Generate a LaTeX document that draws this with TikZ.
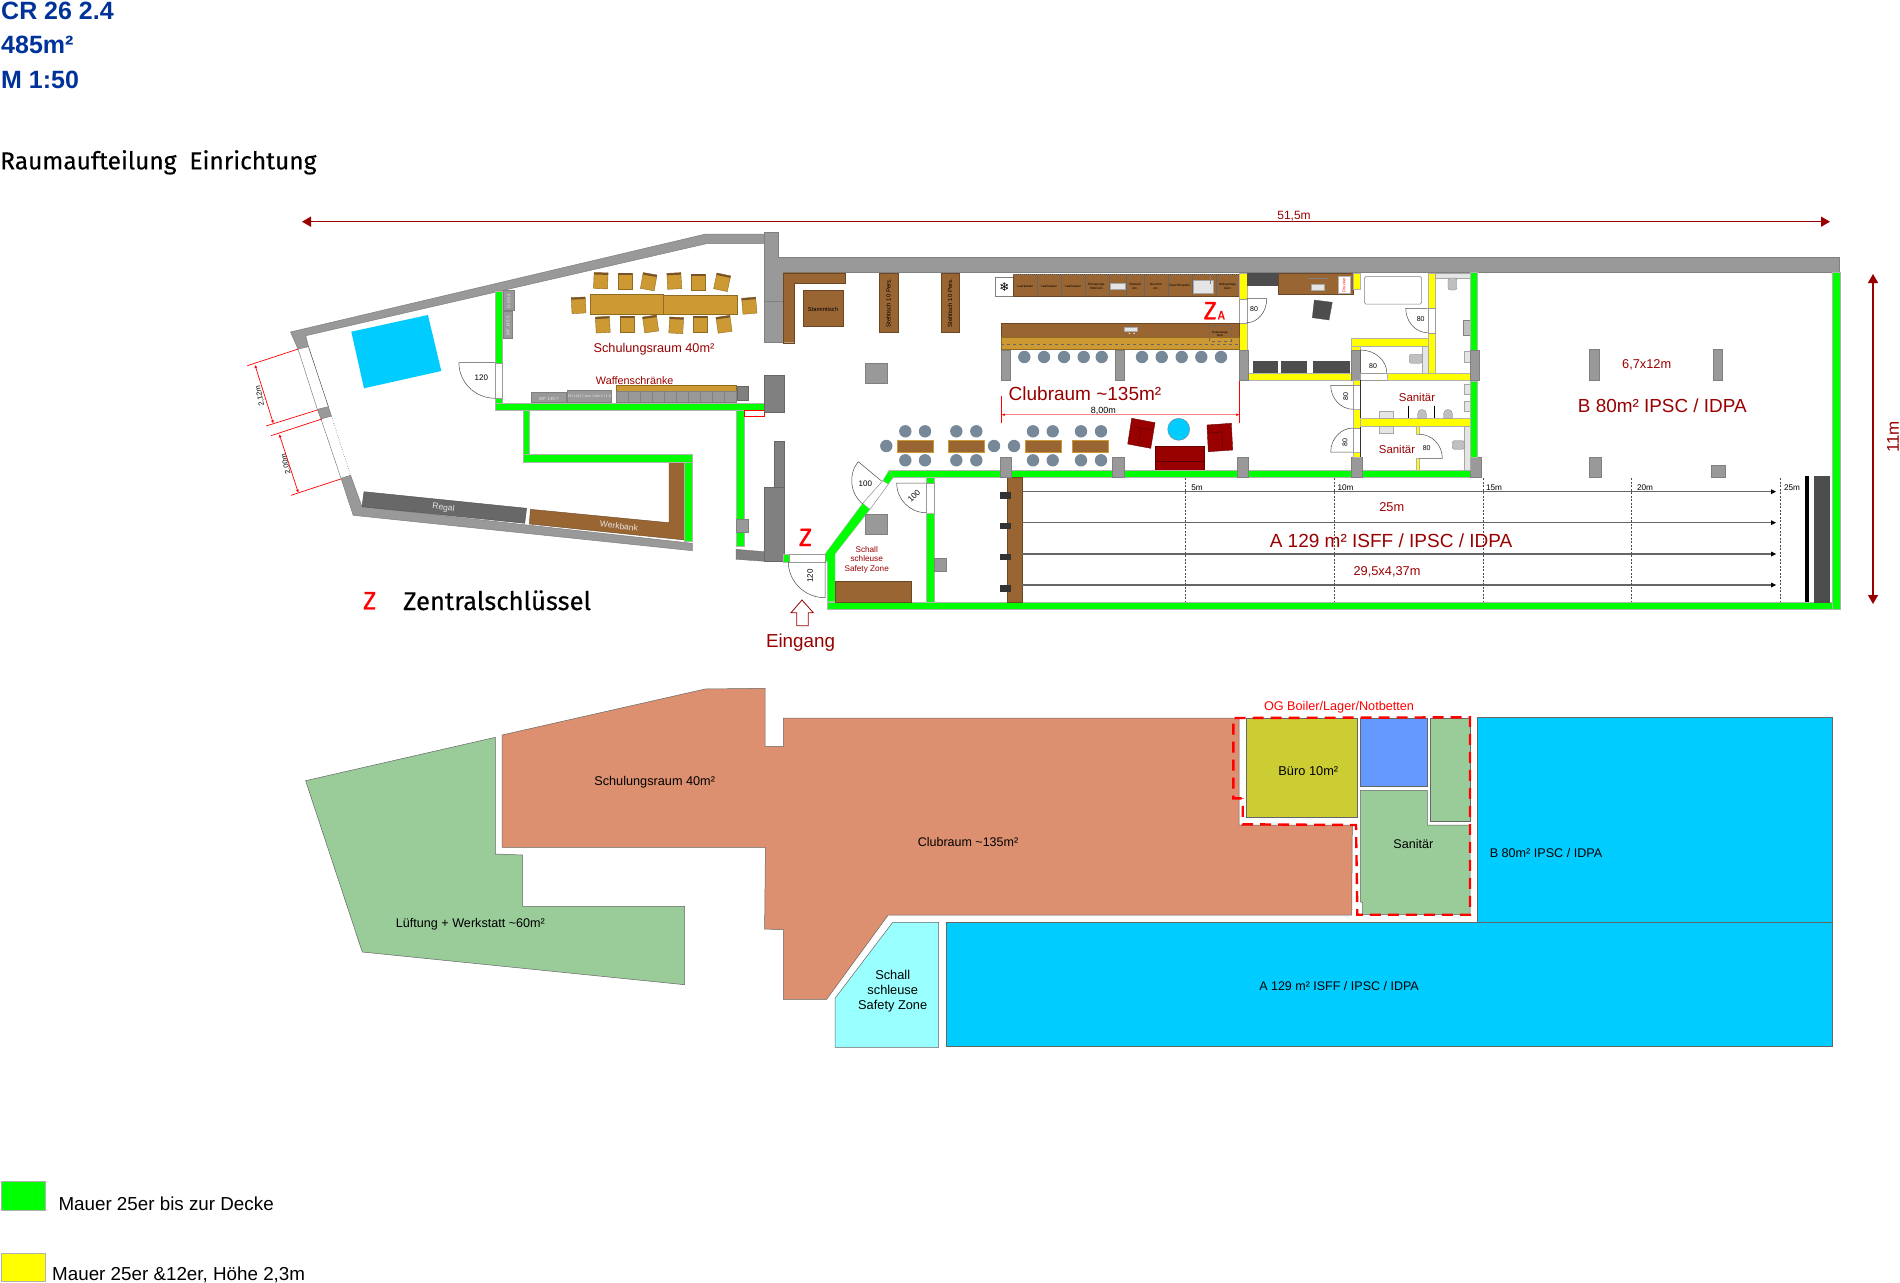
\documentclass[tikz,border=0pt]{standalone}
\usepackage{fontspec}
\setmainfont{Liberation Sans}
\newfontfamily\dinf{Fira Sans}[FakeBold=0.4]
\newfontfamily\dinz{Fira Sans}[FakeBold=1]
\newfontfamily\djvf{DejaVu Sans}
\usetikzlibrary{arrows.meta,calc}
\definecolor{dred}{HTML}{990000}
\definecolor{wgray}{HTML}{999999}
\definecolor{dgray}{HTML}{808080}
\definecolor{brwn}{HTML}{996633}
\definecolor{tann}{HTML}{CC9933}
\definecolor{sky}{HTML}{00CCFF}
\definecolor{tblue}{HTML}{003399}
\definecolor{lgreen}{HTML}{99CC99}
\definecolor{salm}{HTML}{DD9070}
\definecolor{stool}{HTML}{778899}
\definecolor{blk}{HTML}{4D4D4D}
\definecolor{wgreen}{HTML}{00FF00}
\definecolor{wyel}{HTML}{FFFF00}
\definecolor{pcyan}{HTML}{99FFFF}
\definecolor{pred}{HTML}{FF0000}
\tikzset{
 wg/.style={fill=wgray,draw=dgray,line width=.5pt},
 wd/.style={fill=dgray,draw=dgray!80!black,line width=.3pt},
 wgr/.style={fill=wgreen,draw=gray!60,line width=.4pt},
 wy/.style={fill=wyel,draw=gray!60,line width=.4pt},
 br/.style={fill=brwn,draw=brwn!70!black,line width=.4pt},
 tn/.style={fill=tann,draw=tann!70!black,line width=.4pt},
 bk/.style={fill=blk,draw=black!70,line width=.4pt},
 lg/.style={fill=black!10,draw=gray!70,line width=.3pt},
 doorl/.style={draw=black!70,line width=.5pt},
 gapl/.style={fill=white,draw=gray!80,line width=.4pt},
 dimr/.style={draw=pred,line width=.7pt},
 roomp/.style={draw=gray!80!black,line width=.5pt},
 bigarrow/.style={draw=dred,line width=1.5pt,-{Triangle[length=9pt,width=10pt]}},
 rangeln/.style={draw=black!60,line width=1.2pt,dash pattern=on .6pt off .4pt},
 gridln/.style={draw=black!70,line width=.5pt,dash pattern=on 2pt off 1.5pt},
}
\newcommand\lb[5][0]{\node[yshift=-1pt,rotate=#1,inner sep=0pt,align=center,text=#4,font={\fontsize{#3pt}{#3pt}\selectfont\baselineskip=1.15\baselineskip}] at (#2) {#5};}
\newcommand\rc[5]{\draw[#5] (#1,#2) rectangle (#3,#4);}
\newcommand\dr[3]{\draw[doorl] (#1) -- (#2) .. controls ($(#2)+0.5523*(#3)-0.5523*(#1)$) and ($(#3)+0.5523*(#2)-0.5523*(#1)$) .. (#3);}
\newcommand\chairb[3]{\begin{scope}[shift={(#1,#2)},rotate=#3]
 \draw[tn] (-7,-8) rectangle (7,8);\fill[brwn!80!black] (-7,-8) rectangle (7,-6);\end{scope}}
\begin{document}
\begin{tikzpicture}[x=1pt,y=-1pt]
\fill[white] (0,0) rectangle (1900,1282);
\useasboundingbox (0,0) rectangle (1900,1282);
% titles
\node[anchor=base west,inner sep=0pt,text=tblue,font=\fontsize{25pt}{25pt}\selectfont\bfseries] at (1,19) {CR 26 2.4};
\node[anchor=base west,inner sep=0pt,text=tblue,font=\fontsize{25pt}{25pt}\selectfont\bfseries] at (1,53.7) {485m²};
\node[anchor=base west,inner sep=0pt,text=tblue,font=\fontsize{25pt}{25pt}\selectfont\bfseries] at (1,88.7) {M 1:50};
\node[anchor=base west,inner sep=0pt,font=\fontsize{24.5pt}{24.5pt}\selectfont\dinf] at (0,169.3) {Raumaufteilung\ \ Einrichtung};
% dimension arrows
\draw[bigarrow,{Triangle[length=9pt,width=10pt]}-{Triangle[length=9pt,width=10pt]}] (302,221.7) -- (1830,221.7);
\lb{1294,215}{12}{dred}{51,5m}
\draw[bigarrow,{Triangle[length=9pt,width=10pt]}-{Triangle[length=9pt,width=10pt]}] (1873,274) -- (1873,604);
\lb[90]{1893,436}{17}{dred}{11m}
% outer gray walls
\draw[wg] (290.5,332)--(705.7,234)--(764.6,234)--(764.6,243.7)--(706.4,243.7)--(305.8,335.7)--(308.5,346.7)--(298,349)--cycle;
\draw[wg] (317.3,409.3)--(328.4,406.7)--(331.4,416)--(321,419)--cycle;
\draw[wg] (341,478.3)--(353.2,515.3)--(692.3,550.7)--(692.3,543.3)--(362,506.7)--(350.6,475.3)--cycle;
\draw[wg] (764.6,232)--(778.4,232)--(778.4,257.5)--(1839.7,257.5)--(1839.7,272.5)--(783.3,272.5)--(783.3,342.7)--(764.6,342.7)--cycle;
\draw[dgray,line width=.4pt] (764.6,300.7)--(783.3,300.7);
% windows
\draw[gray,line width=.5pt] (298,349)--(317.3,409.3);
\draw[black!70,line width=.5pt] (308.5,346.7)--(328.4,406.7);
\draw[gray,line width=.5pt] (321,419)--(341,478.3);
\draw[black!80,line width=.5pt,dotted] (331.4,416)--(350.6,475.3);
% window dims
\draw[dimr] (247.3,365.7)--(298.3,349);
\draw[dimr] (266,426)--(317.3,410);
\draw[dimr] (271,435.7)--(321.7,419);
\draw[dimr] (291,495.3)--(340.7,479);
\draw[dimr,{Latex[length=3pt,width=3pt]}-{Latex[length=3pt,width=3pt]}] (255,365)--(273.3,423.3);
\draw[dimr,{Latex[length=3pt,width=3pt]}-{Latex[length=3pt,width=3pt]}] (279.3,434.3)--(298.3,492.7);
\lb[102]{260,395}{7.4}{black}{2,12m}
\lb[104]{286,463.3}{7.4}{black}{2,00m}
% workshop room
\draw[fill=sky,draw=none] (351.3,331.7)--(427.9,315)--(441.3,371)--(364,388.3)--cycle;
\draw[fill=blk!85!white,draw=black!70,line width=.4pt] (364,491.7)--(526.6,508.3)--(524.7,523.3)--(362,506.7)--cycle;
\draw[br] (530.4,509.3)--(669,522.7)--(669,462)--(684.6,462)--(684.6,540)--(529.3,524)--cycle;
\lb[-7]{443.5,507}{8.5}{black!10}{Regal}
\lb[-7]{619,525}{8.5}{black!10}{Werkbank}
% green walls left
\rc{495.2}{290.7}{502.5}{362.7}{wgr}
\rc{495.2}{398}{502.5}{410.3}{wgr}
\rc{495.2}{402.7}{764.6}{410.3}{wgr}
\rc{522.8}{410.3}{529.3}{454.3}{wgr}
\rc{522.8}{454.3}{692}{462}{wgr}
\rc{684.6}{462}{692}{540.7}{wgr}
\rc{736.3}{410.3}{744}{545.7}{wgr}
\rc{736.3}{519}{748.6}{532}{wg}
\rc{495.2}{362.7}{502.5}{398}{gapl}
\dr{495.2,362.7}{458.9,362.7}{495.2,398.3}
\lb{481.4,376.7}{8}{black}{120}
\rc{744.7}{410.5}{763.9}{416.3}{fill=white,draw=pred,line width=.8pt}
% dark blocks
\rc{764.6}{375.3}{783.8}{412}{wd}
\rc{774.6}{440.7}{783.8}{487.3}{wd}
\rc{764.6}{487.3}{783.8}{561.3}{wd}
\draw[wd] (736,549.3)--(764.6,551.7)--(764.6,561.3)--(736,559.3)--cycle;
% Schulungsraum furniture
\rc{503.6}{290.7}{514}{310}{wg}
\rc{503.6}{311.7}{512.4}{338.3}{wg}
\lb[90]{508.8,300.3}{4.5}{black!10}{D-EN 4}
\lb[90]{508,325}{4.5}{black!10}{WF 145-5}
\rc{590}{294.3}{663.6}{313.7}{tn}
\rc{663.6}{295}{737}{314}{tn}
\foreach \x/\y/\r in {600.8/280.7/-2,625/281/0,648.7/281.7/-10,674.3/281/3,697.7/281.7/0,722.1/282.3/-12,602.8/324.7/3,626.9/324/0,650.6/324/8,676.2/325.3/-3,700.3/324.3/0,724/324.3/8,578.6/305.3/3,749.3/305.7/5}{\chairb{\x}{\y}{\r}}
\lb{654,348.3}{12.7}{dred}{Schulungsraum 40m²}
\lb{634.7,379.3}{10.8}{dred}{Waffenschränke}
\rc{531}{392.7}{566.7}{402.5}{wg}
\rc{567}{390}{611.7}{402.5}{wg}
\lb{549,398}{4.5}{black!10}{WF 145-7}
\lb{589.5,396}{3.6}{black!10}{EN 1143 | Gun Safe 8 | 1-8}
\rc{616}{385.3}{736}{391.7}{tn}
\foreach \i in {0,...,9}{\draw[wg] ({616+12*\i},391.7) rectangle ({628+12*\i},402.5);}
\rc{736.7}{386}{748.3}{400}{wd}
% Clubraum furniture
\draw[br] (783.3,272.7)--(845,272.7)--(845,283.3)--(794.3,283.3)--(794.3,342.7)--(783.3,342.7)--cycle;
\rc{803}{290.3}{842.7}{325.7}{br}
\lb{823,308.5}{5.75}{black}{Stammtisch}
\rc{879.3}{272.7}{897.7}{332}{br}
\rc{941}{272.7}{959}{332}{br}
\lb[90]{888.5,302}{6}{black}{Stehtisch 10 Pers.}
\lb[90]{950,302}{6}{black}{Stehtisch 10 Pers.}
\rc{865.7}{363.3}{887.3}{383.7}{wg}
\rc{995.3}{277.3}{1013.3}{296}{fill=white,draw=gray,line width=.4pt}
\node[inner sep=0pt,font=\fontsize{12pt}{12pt}\selectfont\djvf] at (1004.3,286.7) {❄};
\rc{1013.3}{274.5}{1239}{295.7}{br}
\foreach \x in {1037.3,1061,1084.7,1108.7,1126.3,1144.3,1167.7,1191.7,1215.7}{\draw[black!60,line width=.4pt] (\x,274.5)--(\x,295.7);}
\draw[gray,line width=.8pt,dash pattern=on 1pt off 1pt] (1013.3,274.5)--(1239,274.5);
\lb{1025.3,285.5}{3.2}{black}{Leerkasten}
\lb{1049,285.5}{3.2}{black}{Leerkasten}
\lb{1073,285.5}{3.2}{black}{Leerkasten}
\lb{1096.7,285.5}{3.2}{black}{Reinigungs-\\mittel etc.}
\lb{1135.3,285.5}{3.2}{black}{Besteck\\etc.}
\lb{1156,285.5}{3.2}{black}{Geschirr\\etc.}
\lb{1179.7,285}{3.2}{black}{Geschirrspüler}
\lb{1227.5,285.5}{3.2}{black}{Hebeanlage\\klein}
\rc{1110}{283.3}{1124.7}{289}{lg}
\rc{1193.3}{280.3}{1213.3}{293.3}{lg}
\draw[gray,line width=.8pt] (1210,274.5)--(1210,284);
\rc{1239}{272.7}{1246.7}{298.7}{wy}
\rc{1239}{322.7}{1246.7}{350}{wy}
\rc{1239}{298.7}{1246.7}{322.7}{gapl}
\dr{1246.7,298.7}{1266.7,298.7}{1246.7,322.7}
\lb{1254,308.3}{7}{black}{80}
\rc{1001.3}{323.3}{1239}{336.7}{br}
\rc{1001.3}{336.7}{1239}{349.3}{tn}
\draw[black!60,line width=.4pt,dashed] (1001.3,344)--(1239,344);
\draw[black!60,line width=.4pt,dashed] (1209.3,325.5) rectangle (1230.7,341);
\lb{1220,333}{3}{black}{Hebeanlage\\klein}
\rc{1124}{327}{1136.7}{331}{lg}
\fill[black!10] (1129.3,333.3) circle[radius=.8pt] (1134,333.3) circle[radius=.8pt];
\rc{1001.3}{350}{1010.7}{380.3}{wg}
\rc{1115.3}{350}{1124.7}{380.3}{wg}
\foreach \x in {1024.3,1044,1064,1083.7,1101.7,1142,1161.7,1181.7,1201.3,1221}{\fill[stool] (\x,357) circle[radius=6.2pt];}
\lb{1085,392.7}{19}{dred}{Clubraum \textasciitilde135m²}
\draw[dimr] (1001.7,396)--(1001.7,422.7);
\draw[dimr] (1239.3,380)--(1239.3,422.7);
\draw[draw=pred!50,line width=1pt,{Latex[length=3pt,width=3pt,pred]}-{Latex[length=3pt,width=3pt,pred]}] (1001.7,414.7)--(1239.3,414.7);
\lb{1103.3,410}{9}{black}{8,00m}
\foreach \a in {897.3,948,1025,1072.3}{\draw[fill=brwn,draw=tann,line width=.4pt] (\a,440.3) rectangle ({\a+36},452);}
\foreach \x in {905.3,925,956.3,976.3,1033,1052.7,1081,1101}{\fill[stool] (\x,431.3) circle[radius=6.2pt] (\x,460.3) circle[radius=6.2pt];}
\foreach \x in {886.3,994,1014}{\fill[stool] (\x,446) circle[radius=6.2pt];}
\draw[fill=dred,draw=dred!70!black,line width=.4pt] (1131.7,418.3)--(1155,422.7)--(1150.7,448.3)--(1127.7,444)--cycle;
\draw[dred!60!black,line width=.4pt] (1134,427)--(1153,430) (1141,428)--(1138,446);
\draw[fill=dred,draw=dred!70!black,line width=.4pt] (1207,425)--(1231.3,423.3)--(1232.7,450)--(1208.3,451.7)--cycle;
\draw[dred!60!black,line width=.4pt] (1207.5,433)--(1222,432)--(1223,450);
\rc{1155.3}{446}{1203.7}{470}{fill=dred,draw=dred!70!black,line width=.4pt}
\draw[dred!60!black,line width=.4pt] (1155.3,460.7)--(1203.7,460.7);
\draw[fill=sky,draw=gray,line width=.4pt] (1178.7,429.3) circle[radius=11pt];
% Z marks
\node[anchor=base,inner sep=0pt,text=pred,font=\fontsize{25pt}{25pt}\selectfont\dinz] at (1210.2,319.3) {Z};
\node[anchor=base,inner sep=0pt,text=pred,font=\fontsize{12pt}{12pt}\selectfont\dinz] at (1221.3,319.3) {A};
\node[anchor=base,inner sep=0pt,text=pred,font=\fontsize{25pt}{25pt}\selectfont\dinz] at (805.5,546) {Z};
\node[anchor=base,inner sep=0pt,text=pred,font=\fontsize{25pt}{25pt}\selectfont\dinz] at (369.7,609.3) {Z};
\node[anchor=base west,inner sep=0pt,font=\fontsize{25.6pt}{25.6pt}\selectfont\dinf] at (403,610) {Zentralschlüssel};
% main green walls
\rc{889.3}{470}{1470}{477.5}{wgr}
\draw[wgr] (889.3,470)--(893.3,477.5)--(888.3,484.3)--(882.7,480.7)--cycle;
\draw[wgr] (862.7,503.3)--(870,509.3)--(835,554)--(835,601.7)--(827.3,601.7)--(827.3,561.7)--(825,561.7)--(825,554)--cycle;
\draw[gray,line width=.4pt] (882.7,480.7)--(862.7,503.3) (888.3,484.3)--(870,509.3);
\rc{827.3}{601.7}{1839.7}{609.3}{wgr}
\rc{1832.3}{272.5}{1839.7}{609.3}{wgr}
\rc{783.3}{554}{789}{561.7}{wgr}
\rc{789}{554}{825}{561.7}{gapl}
\dr{825,561.7}{825,597.7}{788.3,561.7}
\lb[90]{810,575}{8}{black}{120}
\dr{881.5,481}{858.3,461.7}{862.7,504}
\lb{865.3,482.7}{8}{black}{100}
\rc{926}{477.5}{934}{483}{wgr}
\rc{926}{483}{934}{512.7}{gapl}
\rc{926}{512.7}{934}{601.7}{wgr}
\dr{926,483}{896.7,483}{926,512.7}
\lb[45]{914,495}{8}{black}{100}
\rc{865.7}{514.3}{887.3}{534.3}{wg}
\rc{835.3}{581}{910.7}{601.7}{br}
\lb{866.7,558.5}{8.2}{dred}{Schall\\schleuse\\Safety Zone}
\rc{934}{558.3}{946.7}{571.7}{wg}
% Eingang
\draw[draw=dred,fill=white,line width=.8pt] (802,600)--(813.3,612.7)--(808.3,612.7)--(808.3,625.7)--(796.7,625.7)--(796.7,612.7)--(791,612.7)--cycle;
\lb{800.5,642}{18.8}{dred}{Eingang}
% range
\rc{1006.7}{477.5}{1021.7}{601.7}{br}
\foreach \y in {495.2,526,557,588.3}{\rc{1000}{\y-3.3}{1011}{\y+3.3}{fill=black!80,draw=none}}
\foreach \y in {491.7,522.7,554,585}{\draw[rangeln] (1021.7,\y)--(1773,\y);\fill[black] (1771,\y-2.5)--(1776,\y)--(1771,\y+2.5)--cycle;}
\foreach \x/\t/\u in {1185.7/5m/1197,1334.3/10m/1345.5,1482.8/15m/1494,1631.4/20m/1645,1780.5/25m/1792}{\draw[gridln] (\x,478)--(\x,601.5);\lb{\u,487}{8.2}{black}{\t}}
\rc{1805.3}{476}{1809.3}{601.7}{fill=black,draw=none}
\rc{1813.7}{476}{1829.5}{601.7}{bk}
\lb{1391.7,506}{12.8}{dred}{25m}
\lb{1391,540}{19}{dred}{A 129 m² ISFF / IPSC / IDPA}
\lb{1387,570.7}{12.8}{dred}{29,5x4,37m}
% pillars on wall
\foreach \a/\b in {1000/1011,1112.7/1124,1237/1248.3,1351.3/1362.7,1470/1481,1589.3/1601.3}{\rc{\a}{457.3}{\b}{477.5}{wg}}
\rc{1711.3}{465.3}{1725.7}{477.5}{wg}
\rc{1589.3}{349.7}{1599.3}{380.7}{wg}
\rc{1713}{349.7}{1722.7}{380.7}{wg}
\lb{1646.7,364}{12.8}{dred}{6,7x12m}
\lb{1662.3,404.3}{18.9}{dred}{B 80m² IPSC / IDPA}
% office + sanitary
\rc{1246.7}{272.7}{1277.3}{284.7}{bk}
\rc{1278.3}{272.7}{1352.7}{294.3}{br}
\draw[gray,line width=1pt] (1307.7,278)--(1327.7,278);
\rc{1310.7}{284}{1324.3}{290}{lg}
\rc{1338}{276}{1350}{292.7}{fill=white,draw=gray!60,line width=.3pt}
\lb[90]{1344,284.3}{4}{pred}{Drucker}
\rc{1352.7}{272.7}{1360.3}{289.3}{wy}
\draw[fill=white,draw=gray,line width=.5pt,rounded corners=1.5pt] (1364.3,276.7) rectangle (1421.7,304);
\rc{1427.7}{272.7}{1434.7}{308.3}{wy}
\rc{1427.7}{332.7}{1434.7}{372.7}{wy}
\rc{1427.7}{308.3}{1434.7}{332.7}{gapl}
\dr{1427.7,308.3}{1405.7,308.3}{1427.7,332.7}
\lb{1420.7,318.3}{7}{black}{80}
\rc{1434.7}{272.7}{1470}{278}{lg}
\draw[fill=black!25,draw=gray,line width=.3pt,rounded corners=2pt] (1448,278) rectangle (1456.7,290);
\rc{1463.3}{320}{1470}{334.7}{fill=black!25,draw=gray,line width=.3pt}
\rc{1464.3}{351}{1470}{361.7}{lg}
\draw[fill=blk,draw=black!70,line width=.3pt] (1314.3,300)--(1332.3,302.3)--(1329,320)--(1312.3,317.7)--cycle;
\rc{1253}{360.7}{1277.3}{372.7}{bk}
\rc{1281.3}{360.7}{1306}{372.7}{bk}
\rc{1312.7}{360.7}{1349}{372.7}{bk}
\rc{1248.3}{372.7}{1351.7}{380}{wy}
\rc{1239}{350}{1248.3}{380}{wg}
\rc{1351.3}{338}{1427.7}{345.7}{wy}
\rc{1351.3}{345.7}{1360.3}{350}{wy}
\rc{1351.3}{350}{1360.3}{380}{wg}
\rc{1422.3}{345.7}{1427.7}{372.7}{lg}
\draw[fill=black!25,draw=gray,line width=.3pt,rounded corners=2pt] (1409.3,354.3) rectangle (1422.3,363.3);
\rc{1360.3}{372.7}{1386.7}{380}{gapl}
\dr{1360.3,372.7}{1360.3,350}{1386.7,372.7}
\lb{1373,365}{7}{black}{80}
\rc{1386.7}{372.7}{1470}{380}{wy}
\rc{1353.3}{380}{1360.3}{385.3}{wy}
\rc{1353.3}{385.3}{1360.3}{409.3}{gapl}
\rc{1353.3}{409.3}{1360.3}{428}{wy}
\rc{1353.3}{428}{1360.3}{452}{gapl}
\rc{1353.3}{452}{1360.3}{457.3}{wy}
\dr{1353.3,385.3}{1330.7,385.3}{1353.3,409.3}
\lb[90]{1345.7,395.7}{7}{black}{80}
\dr{1353.3,452}{1330.7,452}{1353.3,428}
\lb[90]{1345,441.7}{7}{black}{80}
\draw[black!80,line width=.5pt] (1360.3,380)--(1360.3,457.3);
\rc{1360.3}{418.3}{1470}{425.7}{wy}
\lb{1417,396.7}{11.4}{dred}{Sanitär}
\lb{1397,448.7}{11.4}{dred}{Sanitär}
\rc{1379.3}{411.3}{1393.3}{418.3}{lg}
\rc{1379.3}{425.7}{1393.3}{432.7}{lg}
\draw[black,line width=.6pt] (1408.3,405.7)--(1408.3,418.3) (1434.7,405.7)--(1434.7,418.3);
\foreach \x in {1422,1448}{\draw[fill=black!25,draw=gray,line width=.3pt] (\x-4.5,418.3)--(\x-4.5,414) .. controls (\x-4.5,408) and (\x+4.5,408) .. (\x+4.5,414)--(\x+4.5,418.3)--cycle;}
\rc{1415.7}{425.7}{1419.3}{434.3}{wy}
\rc{1415.7}{458.3}{1419.3}{470}{wy}
\dr{1419.3,458.3}{1442.3,458.3}{1419.3,434.3}
\lb{1426.7,447.3}{7}{black}{80}
\rc{1464.3}{425.7}{1470}{470}{lg}
\draw[fill=black!25,draw=gray,line width=.3pt,rounded corners=2pt] (1452.3,440.7) rectangle (1464.3,449.3);
\rc{1464.3}{384.3}{1470}{394.3}{lg}
\rc{1464.3}{400.7}{1470}{411}{lg}
\rc{1470}{272.5}{1477.3}{350}{wgr}
\rc{1470}{380.7}{1477.3}{457.3}{wgr}
\rc{1470}{350}{1479}{380.5}{wg}
% lower plan
\draw[roomp,fill=lgreen] (305.6,780.7)--(495.4,737.3)--(495.4,854)--(522.6,855)--(522.6,906.3)--(684.6,906.3)--(684.6,984.7)--(362.3,952)--cycle;
\draw[roomp,fill=salm] (502,735)--(705.2,689)--(765,688.3)--(765,746.3)--(783.3,746.3)--(783.3,718)--(1239,718)--(1239,825)--(1352.3,825)--(1351.7,915)--(888.2,915)--(826.6,999.3)--(783.3,999.3)--(783.3,929.7)--(764.6,929)--(765.4,847.3)--(502,847.3)--cycle;
\draw[roomp,fill=pcyan] (892.7,922.3)--(938.7,922.3)--(938.7,1047.3)--(835,1047.3)--(835,998.3)--cycle;
\draw[roomp,fill=sky] (1477.3,717.7) rectangle (1832,922.3);
\draw[roomp,fill=sky] (946.3,922.3) rectangle (1832,1046.7);
\draw[roomp,fill={rgb,255:red,204;green,204;blue,51}] (1246.7,718.3) rectangle (1357.7,817.3);
\draw[roomp,fill={rgb,255:red,102;green,153;blue,255}] (1360.3,718.3) rectangle (1427.7,786.7);
\draw[roomp,fill=lgreen] (1430.7,718.3) rectangle (1470,821.3);
\draw[roomp,fill=lgreen] (1360.3,790.3)--(1427.3,790.3)--(1427.3,825)--(1470,825)--(1470,914.7)--(1362.7,914.7)--(1362.7,902.7)--(1360.3,901.7)--cycle;
\draw[pred,line width=2.4pt,dash pattern=on 11pt off 7pt] (1241.7,798.3)--(1233.3,798.3)--(1233.3,718)--(1470,717.3)--(1470,914.7)--(1357.3,914.7)--(1356,825)--(1242.7,824.3)--(1242.7,798.3);
\lb{1339,706.7}{12.67}{pred}{OG Boiler/Lager/Notbetten}
\lb{1308.3,770}{12.8}{black}{Büro 10m²}
\lb{1413.3,842.7}{12.6}{black}{Sanitär}
\lb{1546,852}{12.6}{black}{B 80m² IPSC / IDPA}
\lb{1339,985}{12.5}{black}{A 129 m² ISFF / IPSC / IDPA}
\lb{654.7,781.7}{12.7}{black}{Schulungsraum 40m²}
\lb{968,841}{12.5}{black}{Clubraum \textasciitilde135m²}
\lb{470.4,923.3}{12.6}{black}{Lüftung + Werkstatt \textasciitilde60m²}
\lb{892.7,990}{12.8}{black}{Schall\\schleuse\\Safety Zone}
% legend
\rc{1}{1181.3}{44.7}{1209.7}{wgr}
\rc{1}{1253.3}{44.7}{1281.3}{wy}
\node[anchor=base west,inner sep=0pt,font=\fontsize{18.8pt}{18.8pt}\selectfont] at (58.3,1210.3) {Mauer 25er bis zur Decke};
\node[anchor=base west,inner sep=0pt,font=\fontsize{18.8pt}{18.8pt}\selectfont] at (52,1280.3) {Mauer 25er \&12er, Höhe 2,3m};
\end{tikzpicture}
\end{document}
